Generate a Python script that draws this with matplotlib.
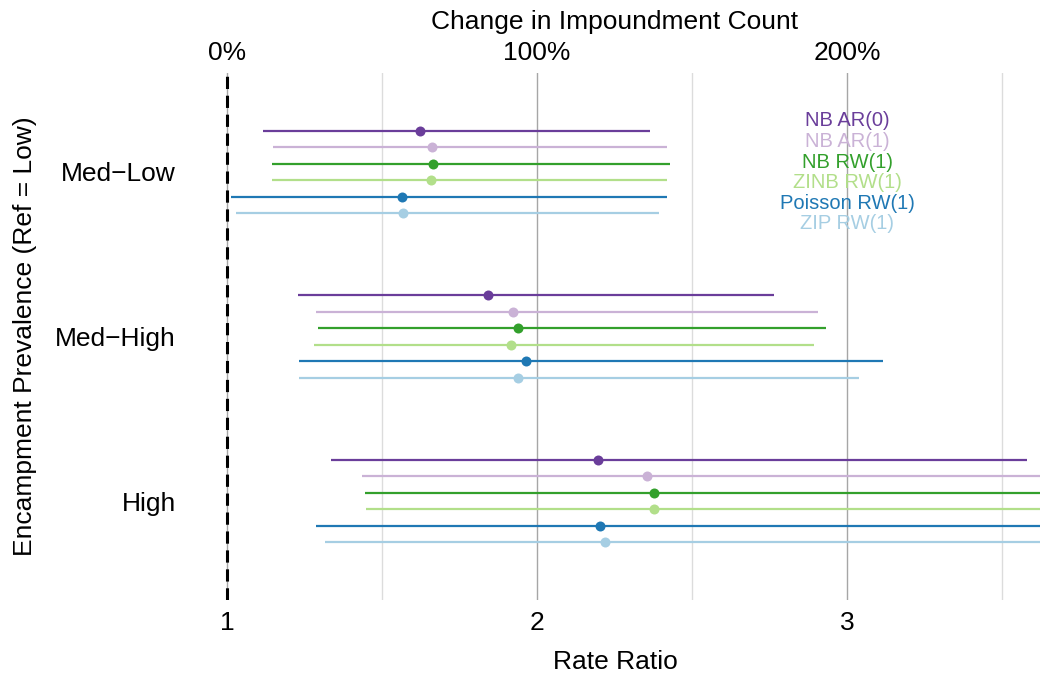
import matplotlib
matplotlib.use("Agg")
import matplotlib.pyplot as plt
from matplotlib.ticker import FixedLocator, FuncFormatter

plt.rcParams['font.family'] = ['Liberation Sans', 'DejaVu Sans']

# Encampment prevalence levels (reference = Low), top to bottom
groups = ["Med\u2212Low", "Med\u2212High", "High"]
models = ["NB AR(0)", "NB AR(1)", "NB RW(1)", "ZINB RW(1)", "Poisson RW(1)", "ZIP RW(1)"]
colors = ["#6a3d9a", "#cab2d6", "#33a02c", "#b2df8a", "#1f78b4", "#a6cee3"]

# Rate ratio estimates and 95% intervals, one list per model (Med-Low, Med-High, High)
nb_ar0_est = [1.624, 1.842, 2.197]
nb_ar0_lo = [1.117, 1.229, 1.335]
nb_ar0_hi = [2.365, 2.765, 3.581]

nb_ar1_est = [1.661, 1.923, 2.355]
nb_ar1_lo = [1.148, 1.287, 1.435]
nb_ar1_hi = [2.419, 2.906, 3.95]

nb_rw1_est = [1.665, 1.939, 2.377]
nb_rw1_lo = [1.145, 1.294, 1.445]
nb_rw1_hi = [2.429, 2.932, 4.00]

zinb_rw1_est = [1.658, 1.916, 2.377]
zinb_rw1_lo = [1.145, 1.281, 1.448]
zinb_rw1_hi = [2.419, 2.894, 3.98]

pois_rw1_est = [1.565, 1.965, 2.203]
pois_rw1_lo = [1.013, 1.232, 1.287]
pois_rw1_hi = [2.419, 3.116, 3.80]

zip_rw1_est = [1.568, 1.939, 2.219]
zip_rw1_lo = [1.029, 1.232, 1.316]
zip_rw1_hi = [2.394, 3.039, 3.85]

estimates = [nb_ar0_est, nb_ar1_est, nb_rw1_est, zinb_rw1_est, pois_rw1_est, zip_rw1_est]
lowers = [nb_ar0_lo, nb_ar1_lo, nb_rw1_lo, zinb_rw1_lo, pois_rw1_lo, zip_rw1_lo]
uppers = [nb_ar0_hi, nb_ar1_hi, nb_rw1_hi, zinb_rw1_hi, pois_rw1_hi, zip_rw1_hi]

fig = plt.figure(figsize=(10.4, 6.79), dpi=100)
ax = fig.add_axes([190 / 1040, 1 - 600 / 679, 850 / 1040, 527 / 679])

group_y = [3, 2, 1]
dodge = [0.25, 0.15, 0.05, -0.05, -0.15, -0.25]

# reference line at no change
ax.axvline(1, color="black", lw=2.2, ls=(0, (4, 2.2)), zorder=2)

for m, (est, lo, hi, col, d) in enumerate(zip(estimates, lowers, uppers, colors, dodge)):
    ys = [g + d for g in group_y]
    ax.hlines(ys, lo, hi, color=col, lw=1.6, zorder=3)
    ax.plot(est, ys, "o", color=col, ms=7.2, mec="none", zorder=4)

ax.set_xlim(1 - 37 / 310, 1 + 813 / 310)
ax.set_ylim(0.4, 3.6)

ax.xaxis.set_major_locator(FixedLocator([1, 2, 3]))
ax.xaxis.set_minor_locator(FixedLocator([1.5, 2.5, 3.5]))
ax.grid(True, which="major", axis="x", color="#a6a6a6", lw=1.0, zorder=0)
ax.grid(True, which="minor", axis="x", color="#dcdcdc", lw=1.0, zorder=0)
ax.set_axisbelow(True)

ax.set_yticks(group_y)
ax.set_yticklabels(groups)
ax.tick_params(axis="y", length=0, pad=10, labelsize=19)
ax.tick_params(axis="x", which="both", length=0, pad=8, labelsize=19)
for s in ax.spines.values():
    s.set_visible(False)

ax.set_xlabel("Rate Ratio", fontsize=19, labelpad=11)
ax.set_ylabel("Encampment Prevalence (Ref = Low)", fontsize=19, labelpad=13)

top = ax.secondary_xaxis("top", functions=(lambda x: (x - 1) * 100, lambda p: p / 100 + 1))
top.set_xticks([0, 100, 200])
top.xaxis.set_major_formatter(FuncFormatter(lambda v, p: f"{v:.0f}%"))
top.tick_params(length=0, pad=5.5, labelsize=19)
top.spines["top"].set_visible(False)
top.set_xlabel("Change in Impoundment Count", fontsize=19, labelpad=9)

# model key as coloured labels
for i, (name, col) in enumerate(zip(models, colors)):
    ax.text(3.0, 3.309 - i * 0.125, name, color=col, fontsize=14.5,
            ha="center", va="center", zorder=5)

fig.savefig("out.png", dpi=100)
